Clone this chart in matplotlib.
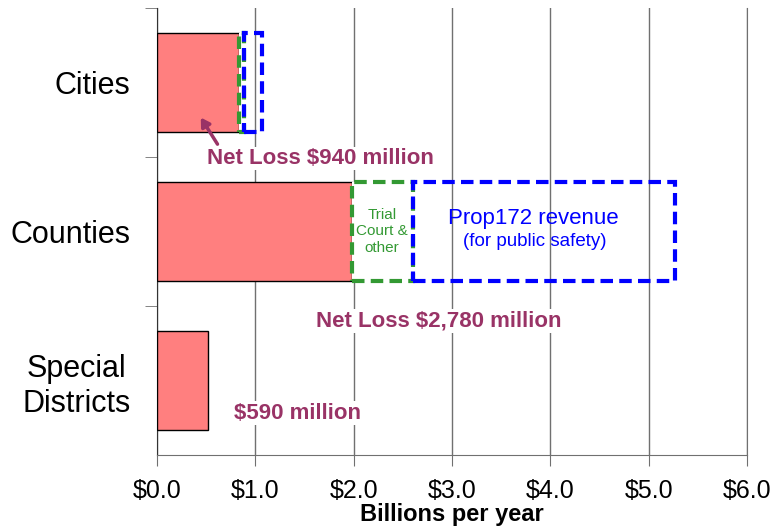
import matplotlib.pyplot as plt
import numpy as np

plt.rcParams['font.family'] = ['Liberation Sans', 'DejaVu Sans']

# data (billions per year)
categories = ['Special\nDistricts', 'Counties', 'Cities']
net_loss = [0.52, 1.98, 0.83]
trial_court = [0.0, 0.62, 0.055]
prop172 = [0.0, 2.67, 0.185]
xticks = [0, 1, 2, 3, 4, 5, 6]
xticklabels = ['$0.0', '$1.0', '$2.0', '$3.0', '$4.0', '$5.0', '$6.0']

purple = '#993366'
green = '#339933'
blue = '#0000FF'
grid_c = '#707070'

fig = plt.figure(figsize=(7.75, 5.31), dpi=100)
ax = fig.add_axes([0.2026, 0.1431, 0.7613, 0.842])

y = np.arange(len(categories))
h = 0.67

ax.barh(y, net_loss, height=h, color='#FF7F7F', edgecolor='black', linewidth=1, zorder=3)
ax.barh(y[1:], trial_court[1:], left=net_loss[1:], height=h, facecolor='white',
        edgecolor=green, linestyle=(0, (3, 1.5)), linewidth=3, zorder=3)
left2 = np.array(net_loss) + np.array(trial_court)
ax.barh(y[1:], prop172[1:], left=left2[1:], height=h, facecolor='none',
        edgecolor=blue, linestyle=(0, (3, 1.5)), linewidth=3, zorder=4)

ax.set_xlim(0, 6)
ax.set_ylim(-0.5, 2.5)
ax.set_xticks(xticks)
ax.set_xticklabels(xticklabels, fontsize=18)
ax.tick_params(axis='x', length=8, color=grid_c, pad=9)
ax.set_xlabel('Billions per year', fontsize=17, fontweight='bold', labelpad=0)

ax.set_yticks(y)
ax.set_yticklabels(categories, fontsize=22, multialignment='center')
ax.tick_params(axis='y', which='major', length=0, pad=19)
ax.set_yticks([0.5, 1.5, 2.5], minor=True)
ax.tick_params(axis='y', which='minor', length=9, color=grid_c)

ax.grid(axis='x', color=grid_c, linewidth=1, zorder=0)
ax.set_axisbelow(True)
ax.spines['top'].set_visible(False)
ax.spines['right'].set_color(grid_c)
ax.spines['left'].set_color('#333333')
ax.spines['bottom'].set_color(grid_c)

box = dict(facecolor='white', edgecolor='none', pad=1)
ax.text(1.66, 1.49, 'Net Loss $940 million', color=purple, fontsize=16,
        fontweight='bold', ha='center', va='center', bbox=box, zorder=5)
ax.text(2.87, 0.40, 'Net Loss $2,780 million', color=purple, fontsize=16,
        fontweight='bold', ha='center', va='center', bbox=box, zorder=5)
ax.text(1.43, -0.22, '$590 million', color=purple, fontsize=16,
        fontweight='bold', ha='center', va='center', bbox=box, zorder=5)
ax.annotate('', xy=(0.43, 1.78), xytext=(0.63, 1.57),
            arrowprops=dict(arrowstyle='-|>,head_width=0.3,head_length=0.5',
                            color=purple, lw=2.5), zorder=5)

ax.text(2.29, 1.0, 'Trial\nCourt &\nother', color=green, fontsize=11,
        ha='center', va='center', zorder=5, linespacing=1.2)
ax.text(3.83, 1.09, 'Prop172 revenue', color=blue, fontsize=16,
        ha='center', va='center', zorder=5)
ax.text(3.84, 0.93, '(for public safety)', color=blue, fontsize=13.5,
        ha='center', va='center', zorder=5)

plt.savefig('out.png', dpi=100)
